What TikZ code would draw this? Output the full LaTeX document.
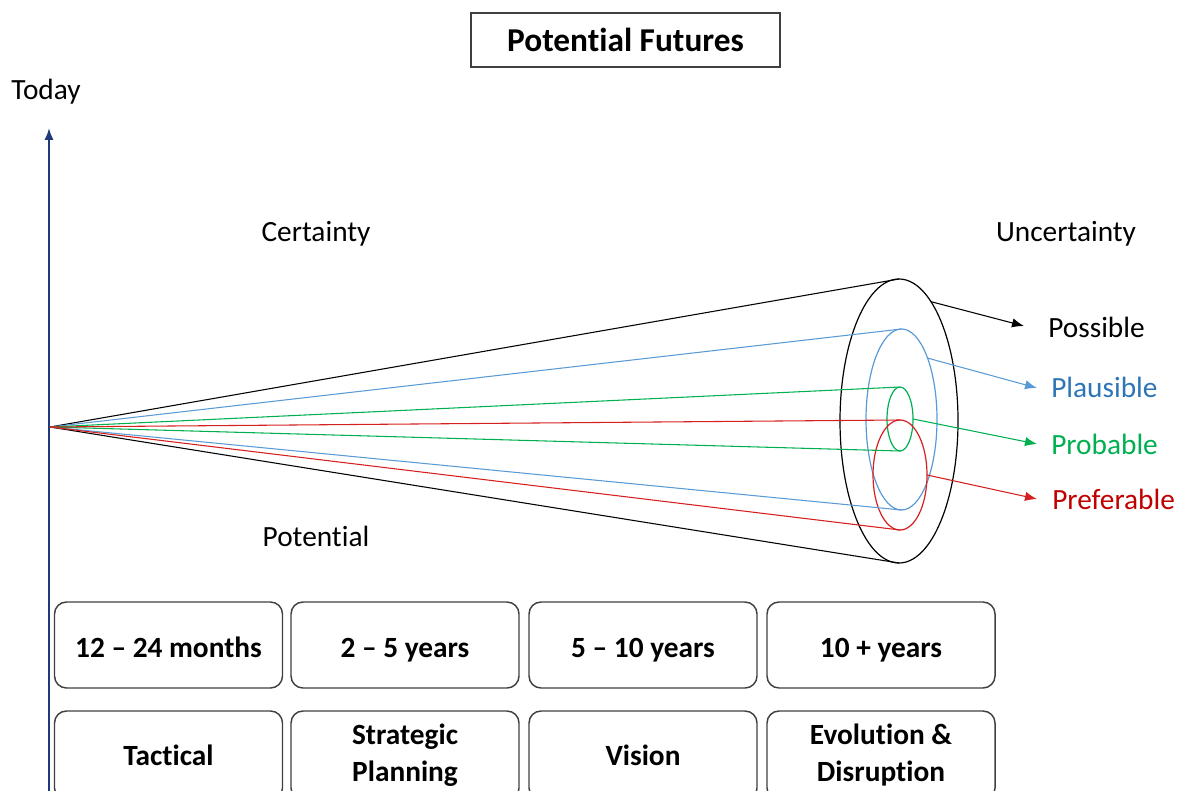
\documentclass[tikz,border=0pt]{standalone}
\usepackage{fontspec}
\setmainfont{Carlito}
\usetikzlibrary{arrows.meta,shapes.geometric}
% split a "ti" pair so the font does not join it into one glyph
\newcommand\tsplit{t\kern0pt i}
\definecolor{navy}{HTML}{1F3A7A}
\definecolor{bluel}{HTML}{5B9BD5}
\definecolor{bluet}{HTML}{2E75B6}
\definecolor{greenl}{HTML}{00B050}
\definecolor{redl}{HTML}{D62020}
\definecolor{redt}{HTML}{C00000}
\definecolor{frame}{HTML}{404040}
\begin{document}
\begin{tikzpicture}[x=0.75pt,y=-0.75pt,
  every node/.style={font=\fontsize{22}{27.75}\selectfont},
  txt/.style={inner sep=0pt},
  ring/.style={ellipse,draw,line width=0.9pt,inner sep=0pt,outer sep=0pt},
  cone/.style={line width=0.8pt},
  lab/.style={inner sep=0pt,anchor=west},
  pointer/.style={line width=0.8pt,-{Latex[length=9pt,width=7pt]}},
  tbox/.style={draw=frame,line width=1.1pt,rounded corners=9pt,minimum width=171pt,
    align=center,font=\fontsize{22}{27.75}\selectfont\bfseries,inner sep=0pt},
  onerow/.style={tbox,minimum height=64.5pt,text height=20pt,text depth=1.4pt}]
\useasboundingbox (0,0) rectangle (1180,791);
\clip (0,0) rectangle (1180,791);

% title
\node[draw=frame,line width=1.1pt,minimum width=231.75pt,minimum height=40.5pt,
  font=\fontsize{25}{30}\selectfont\bfseries] (title) at (625.5,40) {Poten\tsplit al Futures};

% time axis
\coordinate (axbot) at (49,800);
\coordinate (axtop) at (49,128);
\draw[navy,line width=1.5pt,-{Latex[length=9pt,width=7pt]}] (axbot) -- (axtop);
\node[txt] (today) at (46,92) {Today};
\coordinate (apex) at (50,427);

% cone rings
\node[ring,minimum width=88.5pt,minimum height=213pt] (possring) at (899,421) {};
\node[ring,draw=bluel,minimum width=53.25pt,minimum height=135.75pt] (plausring) at (901.5,419.5) {};
\node[ring,draw=greenl,minimum width=19.5pt,minimum height=48pt] (probring) at (900,419) {};
\node[ring,draw=redl,minimum width=40.5pt,minimum height=82.5pt] (prefring) at (900,475) {};

% cone edges
\draw[cone] (apex) -- (possring.north);
\draw[cone] (apex) -- (possring.south);
\draw[cone,bluel] (apex) -- (plausring.north);
\draw[cone,bluel] (apex) -- (plausring.south);
\draw[cone,greenl] (apex) -- (probring.north);
\draw[cone,greenl] (apex) -- (probring.south);
\draw[cone,redl] (apex) -- (prefring.north);
\draw[cone,redl] (apex) -- (prefring.south);

% side labels
\node[txt] (certainty) at (316,234) {Certainty};
\node[txt] (uncertainty) at (1066,234) {Uncertainty};
\node[txt] (potential) at (316,536) {Poten\tsplit al};

% future categories
\node[lab] (possible) at (1048,327) {Possible};
\node[lab,text=bluet] (plausible) at (1051,387) {Plausible};
\node[lab,text=greenl] (probable) at (1051,444) {Probable};
\node[lab,text=redt] (preferable) at (1052,499) {Preferable};

\coordinate (possTip) at (1024,326);
\coordinate (plausTip) at (1037,388);
\coordinate (probTip) at (1037,444);
\coordinate (prefTip) at (1037,499);
\draw[pointer] (possring.75) -- (possTip);
\draw[pointer,bluel] (plausring.67) -- (plausTip);
\draw[pointer,greenl] (probring.east) -- (probTip);
\draw[pointer,redl] (prefring.east) -- (prefTip);

% horizons
\node[onerow] (h1) at (168.5,645) {12 – 24 months};
\node[onerow] (h2) at (405,645) {2 – 5 years};
\node[onerow] (h3) at (643,645) {5 – 10 years};
\node[onerow] (h4) at (881,645) {10 + years};

\node[tbox,minimum height=66.75pt] (m1) at (168.5,755.5) {Tac\tsplit cal};
\node[tbox,minimum height=66.75pt] (m2) at (405,755.5) {Strategic\\Planning};
\node[tbox,minimum height=66.75pt] (m3) at (643,755.5) {Vision};
\node[tbox,minimum height=66.75pt] (m4) at (881,755.5) {Evolu\tsplit on \&\\Disrup\tsplit on};
\end{tikzpicture}
\end{document}
